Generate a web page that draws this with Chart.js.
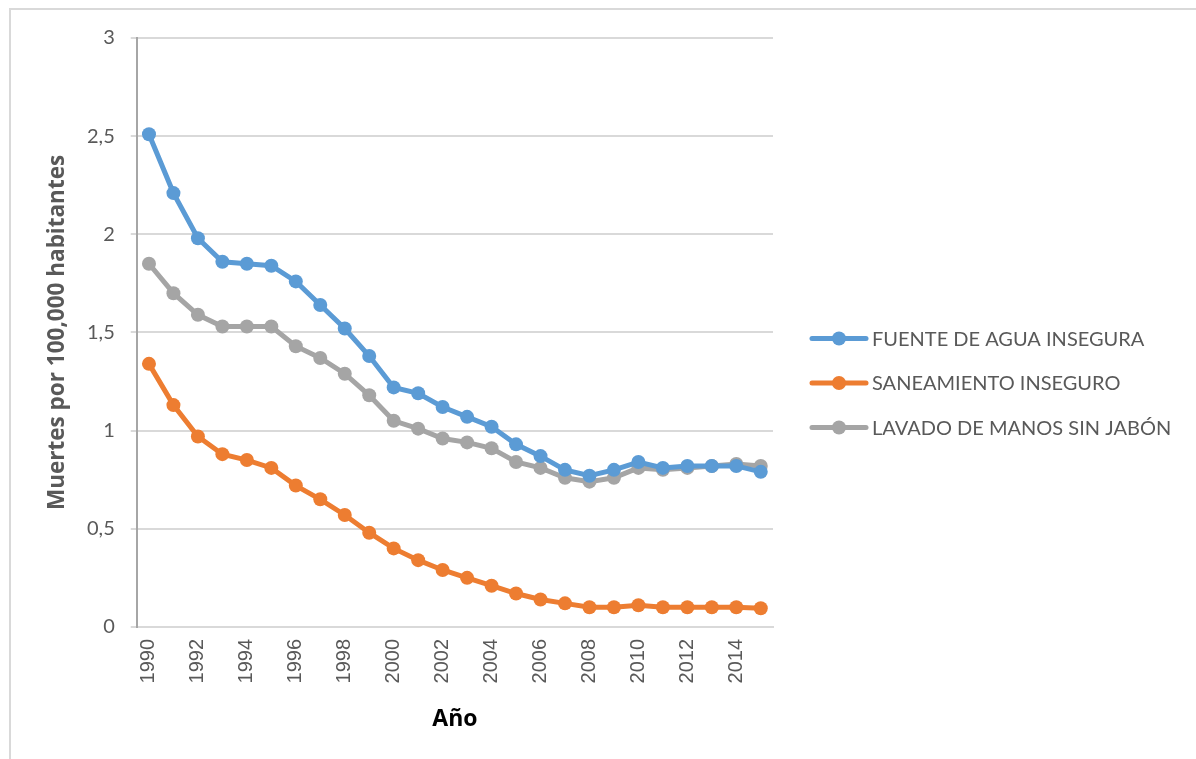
<!DOCTYPE html>
<html>
<head>
<meta charset="utf-8">
<script src="https://cdn.jsdelivr.net/npm/chart.js@4/dist/chart.umd.min.js"></script>
<style>
  html, body { margin: 0; padding: 0; background: #fff; }
  #frame { position: absolute; left: 9px; top: 8px; width: 1187px; height: 751px;
           border-top: 2px solid #d9d9d9; border-left: 2px solid #d9d9d9; box-sizing: border-box; }
  #wrap { position: absolute; left: 0; top: 0; width: 1196px; height: 759px; }
</style>
</head>
<body>
<div id="frame"></div>
<div id="wrap"><canvas id="c" width="1196" height="759"></canvas></div>
<script>
const years = ["1990","1991","1992","1993","1994","1995","1996","1997","1998","1999","2000","2001","2002","2003","2004","2005","2006","2007","2008","2009","2010","2011","2012","2013","2014","2015"];

const fuenteAgua = [2.51, 2.21, 1.98, 1.86, 1.85, 1.84, 1.76, 1.64, 1.52, 1.38, 1.22, 1.19, 1.12, 1.07, 1.02, 0.93, 0.87, 0.80, 0.77, 0.80, 0.84, 0.81, 0.82, 0.82, 0.82, 0.79];
const saneamiento = [1.34, 1.13, 0.97, 0.88, 0.85, 0.81, 0.72, 0.65, 0.57, 0.48, 0.40, 0.34, 0.29, 0.25, 0.21, 0.17, 0.14, 0.12, 0.10, 0.10, 0.11, 0.10, 0.10, 0.10, 0.10, 0.095];
const lavadoManos = [1.85, 1.70, 1.59, 1.53, 1.53, 1.53, 1.43, 1.37, 1.29, 1.18, 1.05, 1.01, 0.96, 0.94, 0.91, 0.84, 0.81, 0.76, 0.74, 0.76, 0.81, 0.80, 0.81, 0.82, 0.83, 0.82];

const seriesNames = ["FUENTE DE AGUA INSEGURA", "SANEAMIENTO INSEGURO", "LAVADO DE MANOS SIN JABÓN"];
const colors = ["#5B9BD5", "#ED7D31", "#A5A5A5"];

function serie(i, data) {
  return {
    label: seriesNames[i],
    data: data,
    borderColor: colors[i],
    backgroundColor: colors[i],
    borderWidth: 5,
    pointRadius: 7,
    pointBackgroundColor: colors[i],
    pointBorderWidth: 0,
    tension: 0
  };
}

// legend on the right: line with a marker, then the label
// (built-in right legend gets squeezed to a quarter of the width)
const sideLegend = {
  id: "sideLegend",
  afterDraw(chart) {
    const ctx = chart.ctx;
    const x0 = chart.chartArea.right + 39;
    const yMid = chart.height / 2 + 3.5;
    const gap = 44.5;
    const n = chart.data.datasets.length;
    chart.data.datasets.forEach((ds, i) => {
      const y = yMid + (i - (n - 1) / 2) * gap;
      ctx.save();
      ctx.strokeStyle = ds.borderColor;
      ctx.lineWidth = 5;
      ctx.lineCap = "round";
      ctx.beginPath();
      ctx.moveTo(x0, y);
      ctx.lineTo(x0 + 54, y);
      ctx.stroke();
      ctx.fillStyle = ds.borderColor;
      ctx.beginPath();
      ctx.arc(x0 + 27, y, 7, 0, Math.PI * 2);
      ctx.fill();
      ctx.fillStyle = "#595959";
      ctx.font = "20px Lato";
      ctx.textBaseline = "middle";
      ctx.fillText(ds.label, x0 + 60, y + 1);
      ctx.restore();
    });
  }
};

function draw() {
  new Chart(document.getElementById("c"), {
    type: "line",
    data: {
      labels: years,
      datasets: [serie(0, fuenteAgua), serie(1, saneamiento), serie(2, lavadoManos)]
    },
    options: {
      responsive: false,
      animation: false,
      layout: { padding: { left: 44, top: 38, right: 423, bottom: 26 } },
      scales: {
        x: {
          offset: true,
          grid: { display: false, drawTicks: false },
          border: { color: "#d9d9d9", width: 2 },
          ticks: {
            autoSkip: false,
            maxRotation: 90,
            minRotation: 90,
            padding: 12,
            color: "#595959",
            font: { family: "Liberation Sans", size: 20 },
            callback: function (value, index) {
              return index % 2 === 0 ? years[index] : "";
            }
          },
          title: {
            display: true,
            text: "Año",
            color: "#000",
            font: { family: "Open Sans", size: 23, weight: "bold" },
            padding: { top: 10, bottom: 0 }
          }
        },
        y: {
          min: 0,
          max: 3,
          grid: { color: "#d9d9d9", lineWidth: 2, tickLength: 6 },
          border: { color: "#a6a6a6", width: 2 },
          ticks: {
            stepSize: 0.5,
            padding: 16,
            color: "#595959",
            font: { family: "Lato", size: 20 },
            callback: function (value) {
              return String(value).replace(".", ",");
            }
          },
          title: {
            display: true,
            text: "Muertes por 100,000 habitantes",
            color: "#595959",
            font: { family: "Open Sans", size: 22.5, weight: "bold" },
            padding: { top: 0, bottom: 0 }
          }
        }
      },
      plugins: {
        legend: { display: false },
        tooltip: { enabled: false }
      }
    },
    plugins: [sideLegend]
  });
}

Promise.all([
  document.fonts.load("20px Lato"),
  document.fonts.load("bold 20px 'Open Sans'"),
  document.fonts.load("20px 'Liberation Sans'")
]).then(draw, draw);
</script>
</body>
</html>
